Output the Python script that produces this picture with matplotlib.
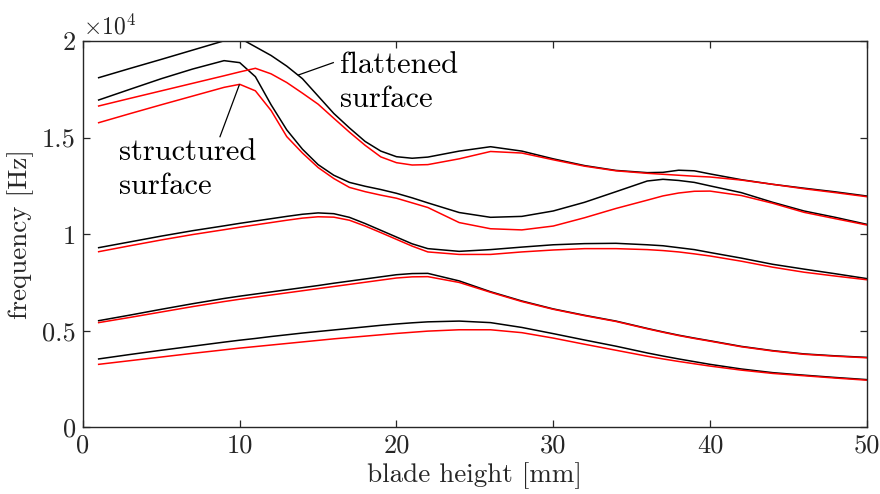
import numpy as np
import matplotlib
matplotlib.use("Agg")
import matplotlib.pyplot as plt
from matplotlib.ticker import FuncFormatter

# blade height [mm]
height = [1, 3, 5, 7, 9, 10, 11, 12, 13, 14, 15, 16, 17, 18, 19, 20, 21, 22, 24, 26,
          28, 30, 32, 34, 36, 37, 38, 39, 40, 42, 44, 46, 48, 50]

# flattened surface (black), frequency [Hz]
flat_1 = [18100, 18580, 19050, 19530, 20010, 20150, 19700, 19250, 18700, 18050, 17150, 16250,
          15500, 14800, 14300, 14010, 13930, 13990, 14300, 14527, 14300, 13900, 13550, 13300,
          13184, 13200, 13310, 13280, 13120, 12820, 12580, 12380, 12190, 11975]
flat_2 = [16945, 17500, 18050, 18550, 18983, 18880, 18152, 16700, 15400, 14400, 13600, 13050,
          12680, 12480, 12310, 12115, 11880, 11620, 11120, 10872, 10920, 11200, 11650, 12198,
          12752, 12840, 12780, 12680, 12500, 12150, 11650, 11200, 10870, 10510]
flat_3 = [9300, 9600, 9900, 10180, 10430, 10560, 10680, 10800, 10920, 11030, 11100, 11060,
          10870, 10550, 10200, 9850, 9500, 9250, 9110, 9200, 9330, 9450, 9510, 9526,
          9450, 9400, 9300, 9200, 9050, 8760, 8440, 8190, 7950, 7700]
flat_4 = [5520, 5810, 6110, 6400, 6670, 6790, 6900, 7010, 7120, 7230, 7340, 7460,
          7570, 7680, 7790, 7900, 7960, 7970, 7580, 7020, 6540, 6130, 5800, 5500,
          5120, 4940, 4770, 4620, 4480, 4190, 3970, 3800, 3700, 3620]
flat_5 = [3540, 3770, 3990, 4200, 4410, 4510, 4600, 4700, 4790, 4880, 4960, 5040,
          5120, 5200, 5280, 5350, 5410, 5460, 5500, 5420, 5170, 4850, 4520, 4200,
          3850, 3690, 3540, 3400, 3260, 3020, 2830, 2700, 2580, 2470]

# structured surface (red), frequency [Hz]
struct_1 = [16635, 17030, 17420, 17810, 18200, 18400, 18587, 18300, 17850, 17300, 16730, 16000,
            15280, 14600, 14000, 13700, 13580, 13600, 13900, 14280, 14200, 13850, 13520, 13280,
            13150, 13100, 13050, 13000, 12960, 12800, 12580, 12350, 12150, 11940]
struct_2 = [15770, 16240, 16700, 17150, 17600, 17758, 17420, 16400, 15050, 14200, 13450, 12880,
            12420, 12200, 12020, 11860, 11620, 11380, 10600, 10280, 10220, 10420, 10850, 11330,
            11760, 11980, 12130, 12220, 12230, 12000, 11600, 11130, 10800, 10475]
struct_3 = [9092, 9400, 9700, 9980, 10230, 10360, 10480, 10600, 10720, 10830, 10900, 10880,
            10720, 10420, 10080, 9730, 9380, 9080, 8950, 8950, 9080, 9180, 9250, 9250,
            9200, 9150, 9080, 8980, 8870, 8600, 8290, 8030, 7830, 7640]
struct_4 = [5420, 5690, 5970, 6250, 6510, 6630, 6740, 6850, 6960, 7070, 7180, 7290,
            7400, 7510, 7620, 7730, 7790, 7800, 7500, 6990, 6510, 6110, 5780, 5480,
            5100, 4920, 4750, 4600, 4460, 4170, 3950, 3780, 3680, 3600]
struct_5 = [3260, 3450, 3640, 3830, 4010, 4100, 4180, 4260, 4340, 4420, 4500, 4580,
            4650, 4720, 4790, 4860, 4920, 4980, 5050, 5050, 4900, 4620, 4300, 3990,
            3680, 3540, 3410, 3290, 3170, 2960, 2790, 2670, 2550, 2440]

plt.rcParams['font.family'] = 'serif'
plt.rcParams['font.serif'] = ['cmr10']
plt.rcParams['mathtext.fontset'] = 'cm'
plt.rcParams['axes.unicode_minus'] = False

AX_COL = '#262626'

fig = plt.figure(figsize=(8.8, 4.94), dpi=100)
ax = fig.add_axes([0.0943, 0.135, 0.8906, 0.782])

for f in [flat_1, flat_2, flat_3, flat_4, flat_5]:
    ax.plot(height, f, color='black', lw=1.1)
for s in [struct_1, struct_2, struct_3, struct_4, struct_5]:
    ax.plot(height, s, color='red', lw=1.1)

ax.set_xlim(0, 50)
ax.set_ylim(0, 20000)
ax.set_xticks([0, 10, 20, 30, 40, 50])
ax.set_yticks([0, 5000, 10000, 15000, 20000])
ax.yaxis.set_major_formatter(FuncFormatter(lambda v, p: '%g' % (v / 1e4)))

for sp in ax.spines.values():
    sp.set_color(AX_COL)
    sp.set_linewidth(1.0)
ax.tick_params(direction='in', top=True, right=True, length=5, width=0.9,
               color=AX_COL, labelcolor=AX_COL, labelsize=19, pad=5)

ax.set_xlabel('blade height [mm]', fontsize=19.5, color=AX_COL, labelpad=3)
ax.set_ylabel('frequency [Hz]', fontsize=19.5, color=AX_COL, labelpad=6)
ax.text(0.0, 1.004, r'$\times10^{4}$', transform=ax.transAxes, fontsize=17,
        color=AX_COL, ha='left', va='bottom')

# annotations
ax.plot([13.74, 15.97], [18240, 18880], color='black', lw=0.9)
ax.text(16.4, 17850, 'flattened\nsurface', fontsize=22, ha='left', va='center',
        linespacing=1.3)
ax.plot([8.74, 9.97], [15046, 17722], color='black', lw=0.9)
ax.text(2.3, 13350, 'structured\nsurface', fontsize=22, ha='left', va='center',
        linespacing=1.3)

fig.savefig('out.png', dpi=100)
